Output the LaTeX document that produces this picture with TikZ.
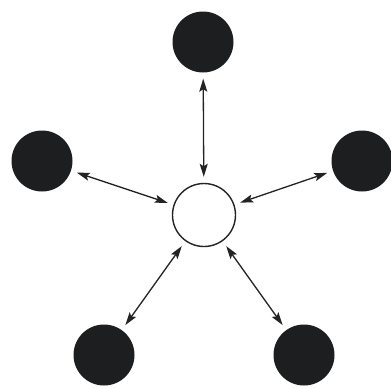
\documentclass[tikz,border=0pt]{standalone}
\usetikzlibrary{arrows.meta}
\definecolor{dotc}{RGB}{28,30,32}
\definecolor{linec}{RGB}{35,35,35}
\begin{document}
\begin{tikzpicture}[x=1pt,y=-1pt,
  outer/.style={circle,fill=dotc,minimum size=61pt,inner sep=0pt},
  hub/.style={circle,draw=linec,line width=1.4pt,fill=white,minimum size=63pt,inner sep=0pt},
  link/.style={{Stealth[length=13pt,width=8pt,inset=2.5pt]}-{Stealth[length=13pt,width=8pt,inset=2.5pt]},
    line width=1.3pt,draw=linec,shorten <=6pt,shorten >=6pt}]
\useasboundingbox (0,0) rectangle (391,389);
\node[hub] (c) at (204,215) {};
\node[outer] (t) at (203,42) {};
\node[outer] (l) at (42,161) {};
\node[outer] (r) at (362,161) {};
\node[outer] (bl) at (104,355) {};
\node[outer] (br) at (304,355) {};
\draw[link] (t) -- (c);
\draw[link] (l) -- (c);
\draw[link] (r) -- (c);
\draw[link] (bl) -- (c);
\draw[link] (br) -- (c);
\end{tikzpicture}
\end{document}
